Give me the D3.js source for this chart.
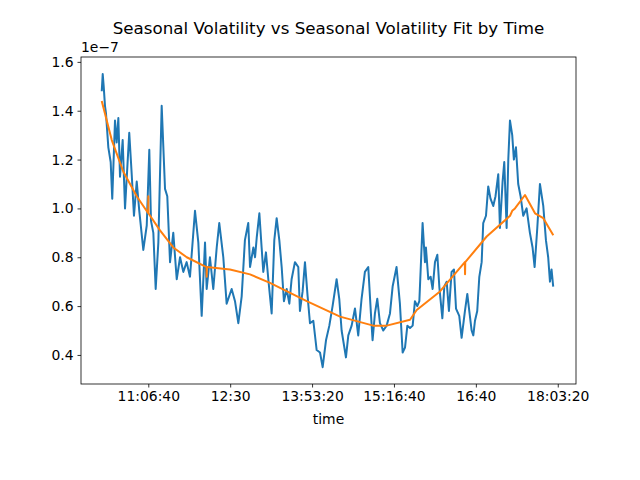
<!DOCTYPE html>
<html>
<head>
<meta charset="utf-8">
<script src="https://cdn.jsdelivr.net/npm/d3@7"></script>
<style>
  body { margin: 0; background: #fff; }
  text { font-family: "DejaVu Sans", sans-serif; }
</style>
</head>
<body>
<div id="chart"></div>
<script>
// time in minutes since midnight, volatility in units of 1e-7
const volTimes = [619.3,620.3,621.3,622.6,623.6,626,628.4,630,632.8,634.5,636.2,637.9,640.6,643,647.3,649.8,652.1,654.9,657.5,661.6,665.1,667.7,669.4,671.8,674.2,676.9,680.3,683.7,686,688.8,692.1,695.6,699,702.3,705.7,709.1,714.2,717.6,721,724.4,726.1,729.4,732.8,736.3,738.9,743,746.4,751.5,754.9,758.3,761.7,765,768.4,
  770.2,773.6,775.3,777,779.7,782,783.7,786.4,788.8,792.2,794.9,797.3,800,802.4,804.7,807.5,810.2,812.5,815.9,819.3,821,823.7,826.1,828.8,831.2,834.6,838,841.4,844.1,847.5,850.9,854.2,858.3,861,863.4,867.8,870.2,873.6,877,880.3,883.7,887.1,890.5,893.2,894.9,897.3,899.7,902.4,905.8,909.2,912.6,915.3,919.3,922.7,
  925.5,927.9,930.3,933,935.7,938,940.4,942.5,945.8,948.2,949.2,951.6,954,956,958.4,960.8,962.8,965.9,967.9,970.3,972.6,975.3,977.7,979.8,983.1,985.5,988.9,991.3,993.3,995.7,997.4,999.1,1001.4,1003.5,1005.9,1007.5,1010.3,1012.6,1014.9,1017.7,1020,1022.8,1024.5,1027.2,1028.9,1031.3,1033,1034.7,1037,1038.7,1040.8,1043.1,1045.5,1048.2,1051.6,1055,1057.7,1059.8,1062.5,1065.2,1068.6,1071.3,1073.6,1075.4,1077,1078.7];
const volValues = [1.48,1.55,1.50,1.42,1.39,1.25,1.19,1.04,1.36,1.27,1.37,1.13,1.28,1.00,1.31,1.14,0.97,1.11,0.99,0.83,0.93,1.24,0.95,0.90,0.67,0.86,1.42,1.08,1.05,0.78,0.90,0.71,0.80,0.74,0.78,0.72,0.99,0.86,0.56,0.86,0.67,0.80,0.67,0.84,0.94,0.80,0.61,0.67,0.62,0.53,0.64,0.87,0.94,
  0.76,0.84,0.80,0.88,0.98,0.84,0.74,0.82,0.71,0.57,0.87,0.96,0.87,0.76,0.62,0.67,0.61,0.71,0.78,0.76,0.58,0.66,0.78,0.64,0.53,0.54,0.42,0.41,0.35,0.46,0.52,0.60,0.71,0.63,0.50,0.39,0.48,0.52,0.59,0.48,0.63,0.74,0.76,0.57,0.46,0.57,0.63,0.53,0.50,0.52,0.57,0.68,0.76,0.61,
  0.41,0.43,0.52,0.51,0.52,0.62,0.60,0.62,0.94,0.78,0.84,0.71,0.72,0.67,0.78,0.81,0.68,0.55,0.68,0.70,0.58,0.74,0.75,0.59,0.56,0.47,0.58,0.65,0.58,0.50,0.48,0.54,0.58,0.72,0.78,0.94,0.97,1.09,1.04,1.01,1.05,1.14,0.92,1.11,1.19,0.92,1.20,1.36,1.30,1.20,1.25,1.10,1.05,0.97,1.00,0.90,0.84,0.76,0.92,1.10,1.01,0.87,0.80,0.70,0.75,0.68];

const fitTimes = [619.3,629.5,641.3,654.9,666.6,666.7,666.8,678.6,692.1,705.8,725.9,726.1,726.3,749.8,770.2,790.5,827.9,861.8,895.6,909.3,933,939.8,963.5,988.8,989,989.2,1011,1034.8,1037,1039.8,1050,1060.2,1068.6,1078.8];
const fitValues = [1.44,1.28,1.15,1.05,0.98,1.05,0.98,0.91,0.84,0.80,0.76,0.72,0.76,0.75,0.73,0.695,0.62,0.557,0.52,0.52,0.544,0.584,0.66,0.78,0.73,0.78,0.885,0.97,0.99,1.00,1.055,0.98,0.96,0.89];

const xTicks = [40000, 45000, 50000, 55000, 60000, 65000];
const xTickLabels = ["11:06:40", "12:30", "13:53:20", "15:16:40", "16:40", "18:03:20"];
const yTicks = [0.4, 0.6, 0.8, 1.0, 1.2, 1.4, 1.6];

const width = 640, height = 480;
const mLeft = 81, mRight = 576, mTop = 57, mBottom = 384;

const svg = d3.select("#chart").append("svg")
  .attr("width", width).attr("height", height);

const x = d3.scaleLinear().domain([598.2 * 60, 1101.9 * 60]).range([mLeft, mRight]);
const y = d3.scaleLinear().domain([0.281, 1.620]).range([mBottom, mTop]);

const line = d3.line().x(d => x(d[0] * 60)).y(d => y(d[1]));

svg.append("path")
  .datum(d3.zip(volTimes, volValues))
  .attr("d", line).attr("fill", "none")
  .attr("stroke", "#1f77b4").attr("stroke-width", 2).attr("stroke-linejoin", "round");

svg.append("path")
  .datum(d3.zip(fitTimes, fitValues))
  .attr("d", line).attr("fill", "none")
  .attr("stroke", "#ff7f0e").attr("stroke-width", 2).attr("stroke-linejoin", "round");

const xAxis = d3.axisBottom(x).tickValues(xTicks)
  .tickFormat((d, i) => xTickLabels[i]).tickSizeOuter(0).tickSize(3.5).tickPadding(4);
const yAxis = d3.axisLeft(y).tickValues(yTicks)
  .tickFormat(d3.format(".1f")).tickSizeOuter(0).tickSize(3.5).tickPadding(4);

const gx = svg.append("g").attr("transform", `translate(0,${mBottom})`).call(xAxis);
const gy = svg.append("g").attr("transform", `translate(${mLeft},0)`).call(yAxis);
[gx, gy].forEach(g => {
  g.selectAll("text").attr("font-size", 13.9).attr("fill", "#000").style("font-family", "DejaVu Sans");
  g.selectAll("line").attr("stroke", "#000").attr("stroke-width", 0.8);
  g.select(".domain").remove();
});

svg.append("rect")
  .attr("x", mLeft).attr("y", mTop).attr("width", mRight - mLeft).attr("height", mBottom - mTop)
  .attr("fill", "none").attr("stroke", "#000").attr("stroke-width", 0.8);

svg.append("text").attr("x", mLeft).attr("y", mTop - 5)
  .attr("font-size", 13.9).text("1e\u22127");

svg.append("text").attr("x", (mLeft + mRight) / 2).attr("y", 424)
  .attr("text-anchor", "middle").attr("font-size", 13.9).text("time");

svg.append("text").attr("x", (mLeft + mRight) / 2).attr("y", 34)
  .attr("text-anchor", "middle").attr("font-size", 16.7)
  .text("Seasonal Volatility vs Seasonal Volatility Fit by Time");
</script>
</body>
</html>
